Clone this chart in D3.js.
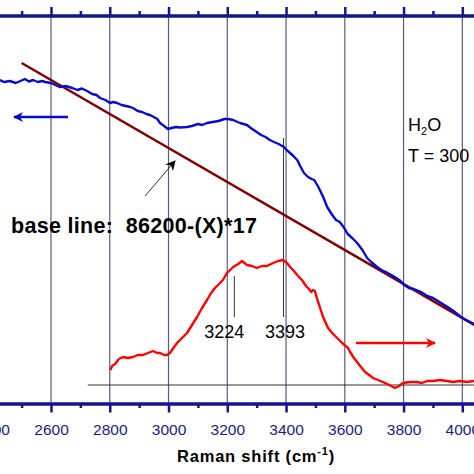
<!DOCTYPE html>
<html><head><meta charset="utf-8">
<script src="https://cdn.jsdelivr.net/npm/d3@7"></script>
<style>html,body{margin:0;padding:0;background:#fff;overflow:hidden}svg{display:block}</style>
</head><body>
<script>
// ---- data ----
const majorTicks = [2400, 2600, 2800, 3000, 3200, 3400, 3600, 3800, 4000];
const minorTicks = [2500, 2700, 2900, 3100, 3300, 3500, 3700, 3900, 4100];

const blueShift = [2426,2440,2460,2480,2500,2511,2525,2539,2555,2570,2580,2600,2615,2630,2650,2672,2690,2705,2723,2740,2755,2767,2785,2801,2812,2825,2840,2855,2870,2879,2895,2910,2925,2937,2950,2962,2971,2985,2998,3010,3025,3040,3063,3080,3100,3115,3131,3150,3170,3190,3203,3220,3235,3244,3255,3267,3280,3295,3315,3330,3345,3359,3375,3393,3402,3410,3425,3438,3450,3461,3475,3487,3496,3510,3525,3540,3555,3570,3583,3598,3610,3625,3642,3660,3676,3690,3710,3725,3740,3758,3775,3790,3802,3818,3835,3860,3880,3900,3928,3950,3970,4000,4020,4045];
const blueCounts = [42000,41800,41900,41700,41950,42100,41850,42000,41800,41900,41800,41700,41500,41300,41400,41200,41000,41150,40900,40600,40500,40200,40000,39700,39800,39700,39500,39400,39300,39200,38900,38800,38600,38500,38300,38100,37700,37400,37100,37200,37300,37250,37300,37400,37600,37500,37700,37800,37900,38100,38100,38000,37800,37700,37600,37500,37200,36900,36500,36300,36000,35800,35600,35300,35000,34800,34400,34000,33300,32700,32300,32100,32000,31300,30400,29300,28600,28000,27800,27200,26600,26200,25700,25000,24200,23800,23300,23000,22800,22500,22200,21900,21500,21200,21100,20800,20400,20200,19700,19300,18900,18200,17900,17500];

const baselineShift = [2500, 4050];
const baselineCounts = [43700, 17350];

const redShift = [2802,2808,2818,2831,2845,2862,2879,2896,2913,2930,2947,2961,2971,2985,2995,3005,3019,3029,3046,3063,3080,3097,3114,3131,3145,3158,3172,3185,3199,3220,3237,3250,3267,3284,3301,3318,3335,3356,3373,3390,3403,3414,3424,3441,3454,3468,3478,3486,3492,3498,3506,3516,3526,3543,3557,3574,3591,3611,3618,3631,3642,3655,3669,3683,3696,3713,3730,3751,3771,3785,3798,3822,3846,3863,3880,3900,3924,3948,3968,3992,4016,4040];
const redCounts = [15,19,21,26,28,27,28,30,30,32,34,32,32,30,30,32,38,42,47,52,60,68,77,85,92,97,101,105,112,118,121,124,120,119,117,119,119,122,124,125,122,118,115,109,105,99,96,93,95,94,86,77,68,57,52,47,42,37,33,27,23,18,13,10,7,5,3,0,-3,-1,2,3,3,2,4,4,5,4,3,4,3,4];

const peakLabels = [3224, 3393];
const xTitle = "Raman shift (cm";

// ---- drawing ----
const W = 474, H = 474;
const FONT = "'Liberation Sans', Arial, sans-serif";
const svg = d3.select("body").append("svg").attr("width", W).attr("height", H)
  .style("font-family", FONT);

const x = d3.scaleLinear().domain([2400, 4100]).range([-7.76, 491.7]);
const yL = d3.scaleLinear().domain([9700, 48430]).range([403, 15.7]);
const yR = d3.scaleLinear().domain([-18, 369]).range([403, 16]);
const yTop = 15.5, yBot = 403.5;
const axisCol = "#14148c";

// grid lines
svg.append("g").selectAll("line").data(majorTicks).join("line")
  .attr("x1", d => x(d)).attr("x2", d => x(d))
  .attr("y1", yTop).attr("y2", yBot)
  .attr("stroke", "#5a5a7e").attr("stroke-width", 1.2);

// peak marker lines
svg.append("line").attr("x1", x(3224)).attr("x2", x(3224))
  .attr("y1", 276).attr("y2", 317).attr("stroke", "#333").attr("stroke-width", 1);
svg.append("line").attr("x1", x(3393) - 0.5).attr("x2", x(3393) - 0.5)
  .attr("y1", 138).attr("y2", 317).attr("stroke", "#333").attr("stroke-width", 1);

// red zero line
svg.append("line").attr("x1", x(2725)).attr("x2", W + 10)
  .attr("y1", yR(0)).attr("y2", yR(0)).attr("stroke", "#333").attr("stroke-width", 1);

// baseline line
svg.append("path")
  .datum(d3.zip(baselineShift, baselineCounts))
  .attr("fill", "none").attr("stroke", "#800000").attr("stroke-width", 2.5)
  .attr("d", d3.line().x(d => x(d[0])).y(d => yL(d[1])));

// blue spectrum
svg.append("path")
  .datum(d3.zip(blueShift, blueCounts))
  .attr("fill", "none").attr("stroke", "#0a0acc").attr("stroke-width", 2.4)
  .attr("stroke-linejoin", "round")
  .attr("d", d3.line().x(d => x(d[0])).y(d => yL(d[1])));

// red spectrum
svg.append("path")
  .datum(d3.zip(redShift, redCounts))
  .attr("fill", "none").attr("stroke", "#ff0000").attr("stroke-width", 2.4)
  .attr("stroke-linejoin", "round")
  .attr("d", d3.line().x(d => x(d[0])).y(d => yR(d[1])));

// arrow markers
const defs = svg.append("defs");
function marker(id, col, w, h) {
  defs.append("marker").attr("id", id).attr("viewBox", "0 0 10 10")
    .attr("refX", 9).attr("refY", 5).attr("markerWidth", w).attr("markerHeight", h)
    .attr("markerUnits", "userSpaceOnUse").attr("orient", "auto")
    .append("path").attr("d", "M0,0 L10,5 L0,10 L3,5 Z").attr("fill", col);
}
marker("ab", "#0a0acc", 13, 10);
marker("ar", "#ff0000", 13, 10);
marker("ak", "#000", 11, 10);

svg.append("line").attr("x1", 68).attr("y1", 117).attr("x2", 14).attr("y2", 117)
  .attr("stroke", "#0a0acc").attr("stroke-width", 2.5).attr("marker-end", "url(#ab)");
svg.append("line").attr("x1", 356).attr("y1", 343).attr("x2", 435).attr("y2", 343)
  .attr("stroke", "#ff0000").attr("stroke-width", 2.5).attr("marker-end", "url(#ar)");
svg.append("line").attr("x1", 145).attr("y1", 196).attr("x2", 175).attr("y2", 161)
  .attr("stroke", "#333").attr("stroke-width", 1).attr("marker-end", "url(#ak)");

// axes
function drawAxis(gen, y, labels) {
  const g = svg.append("g").attr("transform", `translate(0,${y})`).call(gen);
  g.select(".domain").attr("stroke", axisCol).attr("stroke-width", 3);
  g.selectAll(".tick line").attr("stroke", axisCol).attr("stroke-width", 2.5);
  g.selectAll(".tick text").attr("fill", "#1c1c7c").style("font-size", "15.5px")
    .style("font-family", FONT);
  if (!labels) g.selectAll(".tick text").remove();
  return g;
}
drawAxis(d3.axisBottom(x).tickValues(minorTicks).tickSize(4.5).tickSizeOuter(0), yBot, false);
drawAxis(d3.axisBottom(x).tickValues(majorTicks).tickSize(9).tickSizeOuter(0).tickPadding(11).tickFormat(d3.format("d")), yBot, true);
drawAxis(d3.axisTop(x).tickValues(minorTicks).tickSize(4.5).tickSizeOuter(0), yTop, false);
drawAxis(d3.axisTop(x).tickValues(majorTicks).tickSize(8.5).tickSizeOuter(0), yTop, false);

// texts
svg.append("text").attr("x", 11).attr("y", 233)
  .attr("font-size", 21.5).attr("font-weight", "bold").attr("fill", "#000")
  .attr("letter-spacing", 0.3)
  .style("white-space", "pre").text("base line:  86200-(X)*17");

const h2o = svg.append("text").attr("x", 408).attr("y", 131).attr("font-size", 18).attr("fill", "#000");
h2o.append("tspan").text("H");
h2o.append("tspan").attr("font-size", 11).attr("dy", 4).text("2");
h2o.append("tspan").attr("dy", -4).text("O");
svg.append("text").attr("x", 408).attr("y", 162).attr("font-size", 18).attr("fill", "#000").text("T = 300");

svg.append("g").selectAll("text").data(peakLabels).join("text")
  .attr("x", (d, i) => x(d) + (i === 0 ? -10 : 1)).attr("y", 338)
  .attr("text-anchor", "middle").attr("font-size", 18).attr("fill", "#000")
  .text(d => d);

const t = svg.append("text").attr("x", 256).attr("y", 462).attr("text-anchor", "middle")
  .attr("font-size", 16.5).attr("font-weight", "bold").attr("letter-spacing", 0.8).attr("fill", "#000");
t.append("tspan").text(xTitle);
t.append("tspan").attr("font-size", 11).attr("dy", -7).text("-1");
t.append("tspan").attr("dy", 7).text(")");
</script>
</body></html>
